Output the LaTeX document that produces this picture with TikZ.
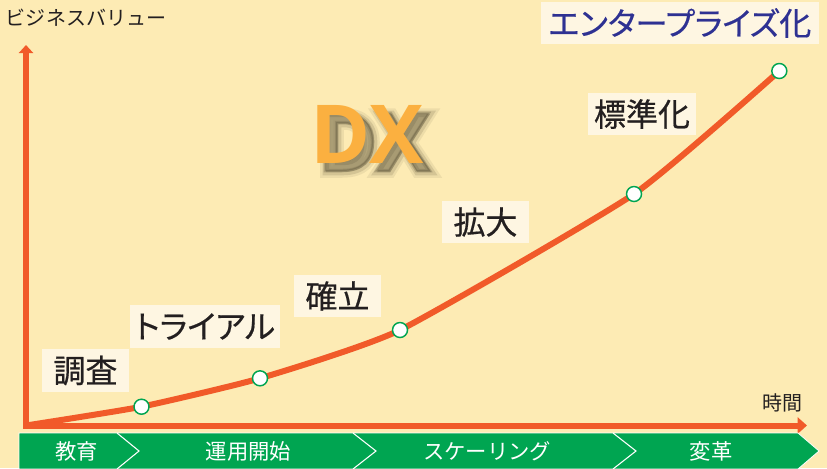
\documentclass[tikz,border=0pt]{standalone}
\usepackage{fontspec}
\newfontfamily\jp{Noto Sans CJK JP}
\newfontfamily\jpl{Noto Sans CJK JP}[RawFeature=+palt,FakeBold=0.5]
\newfontfamily\dxf{Open Sans}
\newfontfamily\dxshA{Open Sans}[FakeBold=3]
\newfontfamily\dxshB{Open Sans}[FakeBold=8]
\newfontfamily\dxshC{Open Sans}[FakeBold=14]
\usetikzlibrary{arrows.meta}
\definecolor{bg}{HTML}{FDEBB4}
\definecolor{boxc}{HTML}{FEF6E2}
\definecolor{orng}{HTML}{F15A29}
\definecolor{grn}{HTML}{00A551}
\definecolor{navy}{HTML}{2E3192}
\definecolor{ink}{HTML}{231F20}
\definecolor{dxc}{HTML}{FBB040}
\definecolor{shad}{HTML}{3C3520}
\newdimen\pxu \pxu=0.75pt
\begin{document}
\begin{tikzpicture}[x=0.75pt,y=-0.75pt,
  lbl/.style={fill=boxc,text=ink,inner sep=0pt,font=\jpl\fontsize{24}{28}\selectfont},
  stage/.style={text=white,inner sep=0pt,font=\jp\fontsize{16}{18}\selectfont},
  axlbl/.style={text=ink,inner sep=0pt,font=\jp\fontsize{15}{18}\selectfont},
  dot/.style={circle,fill=white,draw=grn,line width=1.1pt,minimum size=15*\pxu,inner sep=0pt},
  axisline/.style={draw=orng,line width=4.5pt},
  curveline/.style={draw=orng,line width=4.5pt,line cap=round,line join=round},
  sep/.style={draw=white,line width=0.8pt},
  dxtext/.style={inner sep=0pt,font=\dxf\bfseries\fontsize{61}{61}\selectfont},
  dxshadow/.style={inner sep=0pt,text=shad}]
\useasboundingbox (0,0) rectangle (827,468);
\fill[bg] (0,0) rectangle (827,468);

% axes
\coordinate (ytip) at (26,45);
\coordinate (o) at (26,425.5);
\coordinate (xtip) at (807,425.5);
\draw[axisline,{Triangle[width=10.5pt,length=6pt]}-{Triangle[width=12pt,length=7pt]}] (ytip) -- (o) -- (xtip);

% stage bar
\fill[grn,draw=white,line width=0.6pt] (19,433) -- (798,433) -- (819,451) -- (798,469) -- (19,469) -- cycle;
\draw[sep] (117,433) -- (139,451) -- (117,469);
\draw[sep] (353,433) -- (376,451) -- (353,469);
\draw[sep] (613,433) -- (636,451) -- (613,469);
\node[stage] (s1) at (76.5,451) {教育};
\node[stage] (s2) at (248.5,451) {運用開始};
\node[stage] (s3) at (487,451) {スケーリング};
\node[stage] (s4) at (711,451) {変革};

% curve
\coordinate (c1) at (141.5,406.7);
\coordinate (c2) at (260,378.3);
\coordinate (c3) at (400,330);
\coordinate (c4) at (634,194);
\coordinate (c5) at (779.3,71);
\draw[curveline] plot[smooth,tension=0.3] coordinates {(o) (c1) (c2) (c3) (c4) (c5)};
\node[dot] (p1) at (c1) {};
\node[dot] (p2) at (c2) {};
\node[dot] (p3) at (c3) {};
\node[dot] (p4) at (c4) {};
\node[dot] (p5) at (c5) {};

% labels
\node[lbl,minimum width=87*\pxu,minimum height=43*\pxu] (l1) at (85.5,370.5) {調査};
\node[lbl,minimum width=150*\pxu,minimum height=43*\pxu] (l2) at (205,326.5) {トライアル};
\node[lbl,minimum width=87*\pxu,minimum height=42*\pxu] (l3) at (337.5,296) {確立};
\node[lbl,minimum width=87*\pxu,minimum height=42*\pxu] (l4) at (485.5,222) {拡大};
\node[lbl,minimum width=108*\pxu,minimum height=42*\pxu] (l5) at (642,114) {標準化};
\node[lbl,text=navy,minimum width=278*\pxu,minimum height=42*\pxu] (l6) at (680,23) {エンタープライズ化};

% axis labels
\node[axlbl] (yl) at (86,17.5) {ビジネスバリュー};
\node[axlbl] (xl) at (782,402.5) {時間};

% DX with soft shadow
\node[dxshadow,font=\dxshC\bfseries\fontsize{61}{61}\selectfont,opacity=0.08] (shC) at (375,143) {DX};
\node[dxshadow,font=\dxshB\bfseries\fontsize{61}{61}\selectfont,opacity=0.14] (shB) at (375,143) {DX};
\node[dxshadow,font=\dxshA\bfseries\fontsize{61}{61}\selectfont,opacity=0.22] (shA) at (374,142) {DX};
\node[dxtext,text=dxc] (dx) at (367,134) {DX};
\end{tikzpicture}
\end{document}
